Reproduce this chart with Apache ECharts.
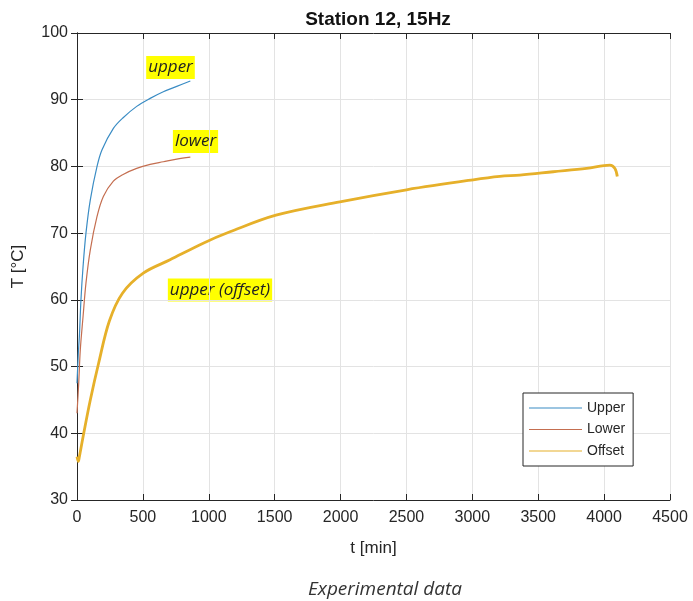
<!DOCTYPE html>
<html>
<head>
<meta charset="utf-8">
<script src="https://cdn.jsdelivr.net/npm/echarts@6/dist/echarts.min.js"></script>
<style>
  html, body { margin: 0; padding: 0; background: #fff; }
  #chart { width: 693px; height: 601px; }
</style>
</head>
<body>
<div id="chart"></div>
<script>
// values (t in min, T in °C)
const upperTime = [0, 10, 18, 30, 46, 68, 101, 152, 190, 276, 350, 453, 555, 655, 757, 860]
const upperTemp = [47.5, 52, 54.5, 60, 65, 70, 75, 80, 82.5, 85.7, 87.3, 89, 90.2, 91.2, 92, 92.8]

const lowerTime = [0, 13, 25, 46, 68, 101, 152, 200, 276, 350, 453, 555, 655, 757, 860]
const lowerTemp = [43, 47.5, 52.5, 57.5, 62.5, 67.5, 72.5, 75.5, 77.8, 78.8, 79.7, 80.3, 80.7, 81.1, 81.4]

const offsetTime = [0, 10, 18, 51, 101, 164, 245, 345, 503, 706, 958, 1161, 1510, 1995, 2501, 3007, 3209, 3361, 3614, 3867, 4044, 4082, 4100]
const offsetTemp = [36.5, 35.8, 36.5, 40, 45, 50.5, 56.8, 61, 64, 66, 68.5, 70.2, 72.7, 74.7, 76.5, 78, 78.5, 78.7, 79.2, 79.7, 80.2, 79.7, 78.5]

const xTicks = { min: 0, max: 4500, interval: 500 }
const yTicks = { min: 30, max: 100, interval: 10 }

function zip(a, b) {
  return a.map((v, i) => [v, b[i]])
}

const chart = echarts.init(document.getElementById('chart'))

const axisColor = '#262626'
const labelFont = { color: axisColor, fontSize: 16, fontFamily: 'Liberation Sans' }

function lineSeries(name, time, temp, color, width) {
  return {
    name: name,
    type: 'line',
    data: zip(time, temp),
    symbol: 'none',
    smooth: 0.35,
    lineStyle: { width: width, color: color },
    itemStyle: { color: color },
    emphasis: { disabled: true }
  }
}

function note(text, x, y) {
  return {
    type: 'text',
    x: x, y: y,
    style: {
      text: text,
      font: 'italic 17px "Open Sans"',
      fill: '#222',
      align: 'center', verticalAlign: 'middle',
      backgroundColor: '#ffff00',
      padding: [3, 2, 3, 2]
    }
  }
}

const option = {
  animation: false,
  backgroundColor: '#fff',
  title: {
    text: 'Station 12, 15Hz',
    left: 373,
    textAlign: 'center',
    top: 5,
    textStyle: { fontFamily: 'Liberation Sans', fontSize: 19, fontWeight: 'bold', color: '#111' }
  },
  grid: { left: 77, top: 33, right: 23, bottom: 101 },
  legend: {
    orient: 'vertical',
    left: 523,
    top: 393,
    padding: [7, 8, 7, 6],
    icon: 'rect',
    itemWidth: 53,
    itemHeight: 1,
    itemGap: 5.5,
    backgroundColor: '#fff',
    borderColor: axisColor,
    borderWidth: 1,
    textStyle: { fontFamily: 'Liberation Sans', fontSize: 14, color: axisColor, lineHeight: 16 },
    data: ['Upper', 'Lower', 'Offset']
  },
  xAxis: [
    {
      type: 'value',
      ...xTicks,
      name: 't [min]',
      nameLocation: 'middle',
      nameGap: 40,
      nameTextStyle: { ...labelFont, fontSize: 17 },
      axisLine: { show: true, lineStyle: { color: axisColor } },
      axisTick: { inside: true, length: 6, lineStyle: { color: axisColor } },
      axisLabel: { ...labelFont, margin: 10, formatter: v => String(v) },
      splitLine: { show: true, lineStyle: { color: '#e3e3e3' } }
    },
    {
      type: 'value',
      ...xTicks,
      position: 'top',
      axisLine: { show: true, lineStyle: { color: axisColor } },
      axisTick: { inside: true, length: 6, lineStyle: { color: axisColor } },
      axisLabel: { show: false },
      splitLine: { show: false }
    }
  ],
  yAxis: [
    {
      type: 'value',
      ...yTicks,
      name: 'T [°C]',
      nameLocation: 'middle',
      nameGap: 50,
      nameTextStyle: { ...labelFont, fontSize: 17 },
      axisLine: { show: true, lineStyle: { color: axisColor } },
      axisTick: { inside: true, length: 6, lineStyle: { color: axisColor } },
      axisLabel: { ...labelFont, margin: 9 },
      splitLine: { show: true, lineStyle: { color: '#e3e3e3' } }
    },
    {
      type: 'value',
      ...yTicks,
      position: 'right',
      axisLine: { show: true, lineStyle: { color: axisColor } },
      axisTick: { inside: true, length: 6, lineStyle: { color: axisColor } },
      axisLabel: { show: false },
      splitLine: { show: false }
    }
  ],
  series: [
    lineSeries('Upper', upperTime, upperTemp, '#3a8cc4', 1.2),
    lineSeries('Lower', lowerTime, lowerTemp, '#c46e50', 1.2),
    lineSeries('Offset', offsetTime, offsetTemp, '#e6b02a', 2.8)
  ],
  graphic: [
    note('upper', 170.5, 67.5),
    note('lower', 195.5, 141.5),
    note('upper (offset)', 220, 290),
    {
      type: 'text',
      x: 385, y: 590,
      style: {
        text: 'Experimental data',
        font: 'italic 19px "Open Sans"',
        fill: '#333',
        align: 'center', verticalAlign: 'middle'
      }
    }
  ]
}

chart.setOption(option)
</script>
</body>
</html>
